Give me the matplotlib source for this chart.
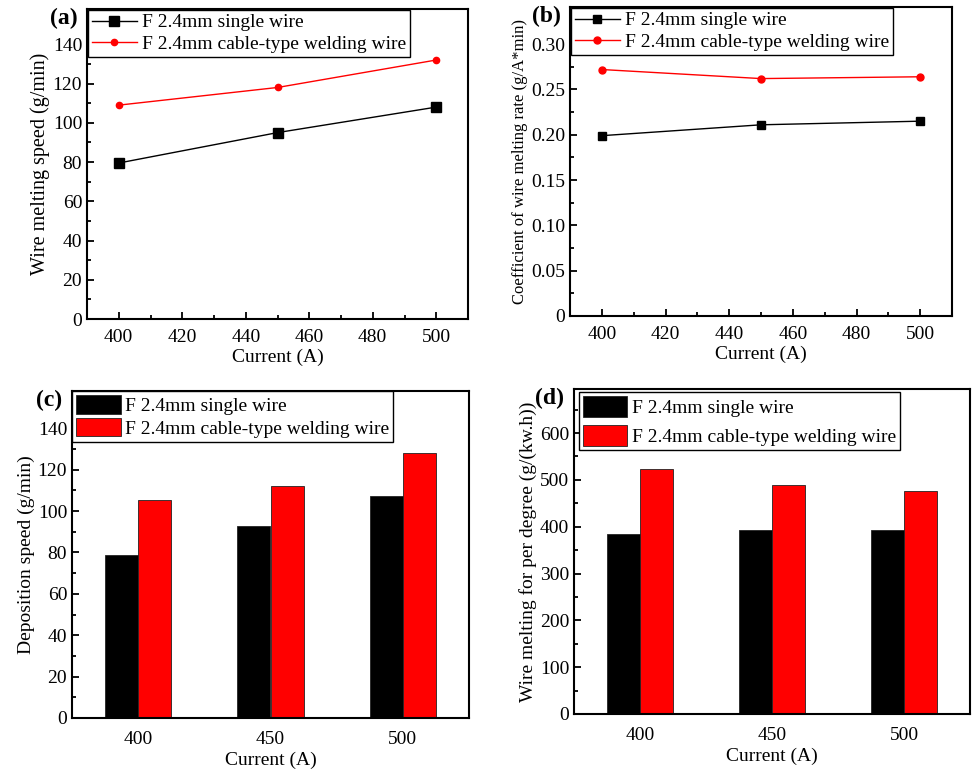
import numpy as np
import matplotlib
matplotlib.use('Agg')
import matplotlib.pyplot as plt
from matplotlib.ticker import MultipleLocator, AutoMinorLocator

plt.rcParams['font.family'] = ['Liberation Serif', 'DejaVu Serif']

current = [400, 450, 500]
current_labels = ['400', '450', '500']
label_single = 'F 2.4mm single wire'
label_cable = 'F 2.4mm cable-type welding wire'

# (a) wire melting speed g/min
melt_single = [79.5, 95, 108]
melt_cable = [109, 118, 132]

# (b) coefficient of wire melting rate g/A*min
coef_single = [0.199, 0.211, 0.215]
coef_cable = [0.272, 0.262, 0.264]

# (c) deposition speed g/min
dep_single = [79, 93, 107.5]
dep_cable = [105.5, 112, 128]

# (d) wire melting per degree g/(kw.h)
deg_single = [385, 393, 393]
deg_cable = [524, 490, 477]

W, H = 973, 772
fig = plt.figure(figsize=(W / 100, H / 100), dpi=100)

def box(l, t, r, b):
    return [l / W, (H - b) / H, (r - l) / W, (b - t) / H]

fs = 14

def style(ax):
    for s in ax.spines.values():
        s.set_linewidth(1.5)
    ax.tick_params(which='both', direction='in', top=False, right=False, labelsize=fs, width=1.3)
    ax.tick_params(which='major', length=5)
    ax.tick_params(which='minor', length=3)

def panel(ax, txt):
    ax.text(-0.025, 0.97, txt, transform=ax.transAxes, ha='right', va='center',
            fontsize=17, fontweight='bold')

def line_panel(ax, ys, yc, ylim, ystep, ylabel, ylfs, tag, ms_sq, ms_c):
    ax.plot(current, ys, color='black', lw=1, marker='s', ms=ms_sq, label=label_single)
    ax.plot(current, yc, color='red', lw=1, marker='o', ms=ms_c, label=label_cable)
    ax.set_xlim(390, 510)
    ax.set_ylim(*ylim)
    ax.xaxis.set_major_locator(MultipleLocator(20))
    ax.xaxis.set_minor_locator(AutoMinorLocator(2))
    ax.yaxis.set_major_locator(MultipleLocator(ystep))
    ax.yaxis.set_minor_locator(AutoMinorLocator(2))
    ax.set_xlabel('Current (A)', fontsize=fs, labelpad=2)
    ax.set_ylabel(ylabel, fontsize=ylfs, labelpad=2)
    style(ax)
    ax.tick_params(axis='x', which='both', pad=7)
    leg = ax.legend(loc='upper left', bbox_to_anchor=(0.003, 0.997), fontsize=fs, frameon=True,
                    fancybox=False, edgecolor='black', framealpha=1, handlelength=2.3,
                    handletextpad=0.25, labelspacing=0.2, borderpad=0.2, borderaxespad=0)
    leg.get_frame().set_linewidth(1.0)
    panel(ax, tag)

def bar_panel(ax, ys, yc, ylim, ystep, ylabel, tag, anchor, hh, lsp):
    x = np.arange(len(current))
    w = 0.25
    ax.bar(x - w / 2, ys, w, color='black', edgecolor='#222222', lw=0.6, label=label_single)
    ax.bar(x + w / 2, yc, w, color='red', edgecolor='#222222', lw=0.6, label=label_cable)
    ax.set_xlim(-0.5, 2.5)
    ax.set_ylim(*ylim)
    ax.set_xticks(x)
    ax.set_xticklabels(current_labels)
    ax.yaxis.set_major_locator(MultipleLocator(ystep))
    ax.yaxis.set_minor_locator(AutoMinorLocator(2))
    ax.set_xlabel('Current (A)', fontsize=fs, labelpad=3)
    ax.set_ylabel(ylabel, fontsize=fs, labelpad=2)
    style(ax)
    ax.tick_params(axis='x', which='both', length=0, pad=9)
    leg = ax.legend(loc='upper left', bbox_to_anchor=anchor, fontsize=fs, frameon=True,
                    fancybox=False, edgecolor='black', framealpha=1, handlelength=2.3,
                    handleheight=hh, handletextpad=0.25, labelspacing=lsp, borderpad=0.2,
                    borderaxespad=0)
    leg.get_frame().set_linewidth(1.0)
    panel(ax, tag)

ax1 = fig.add_axes(box(87, 9, 468, 319))
line_panel(ax1, melt_single, melt_cable, (0, 158), 20, 'Wire melting speed (g/min)', 14.5, '(a)', 6.5, 4.5)

ax2 = fig.add_axes(box(570, 7, 952, 316))
line_panel(ax2, coef_single, coef_cable, (0, 0.341), 0.05, 'Coefficient of wire melting rate (g/A*min)',
           12, '(b)', 5.5, 5)
ax2.yaxis.set_major_formatter(plt.FuncFormatter(lambda v, p: '0' if v == 0 else '%.2f' % v))

ax3 = fig.add_axes(box(72, 391, 469, 718))
bar_panel(ax3, dep_single, dep_cable, (0, 158), 20, 'Deposition speed (g/min)', '(c)', (0.0, 1.0), 1.1, 0.15)

ax4 = fig.add_axes(box(574, 389, 970, 714))
bar_panel(ax4, deg_single, deg_cable, (0, 694), 100, 'Wire melting for per degree (g/(kw.h))', '(d)',
          (0.012, 0.99), 1.3, 0.4)

plt.savefig('out.png', dpi=100)
